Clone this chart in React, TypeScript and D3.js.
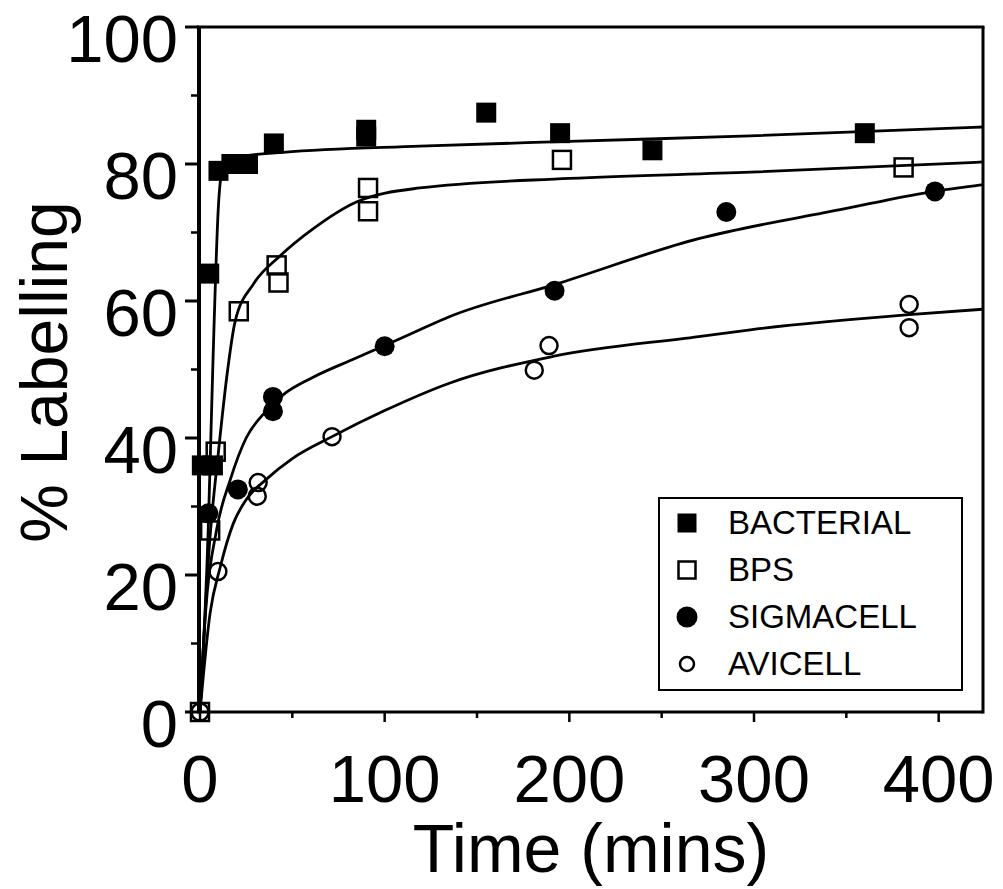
import React from "react";
import * as d3 from "d3";

// measured points [time (mins), % labelling]
const bacterialPts = [[1, 36], [7, 36], [5, 64], [10, 79], [17, 80], [26, 80], [40, 83], [90, 84], [90, 85], [155, 87.5], [195, 84.5], [245, 82], [360, 84.5]];
const bpsPts = [[0, 0], [5.5, 26.5], [8.5, 38], [21, 58.5], [41.5, 65.2], [42.5, 62.7], [91, 76.5], [91, 73.1], [196, 80.6], [381, 79.5]];
const sigmacellPts = [[4.5, 29], [20.5, 32.5], [39.5, 46], [39.5, 43.9], [100, 53.4], [192, 61.5], [285, 73], [398, 76]];
const avicellPts = [[0, 0], [9.7, 20.5], [31.5, 33.5], [31, 31.5], [71.5, 40.2], [189, 53.5], [181, 49.9], [384, 59.5], [384, 56.1]];

// fitted curves
const bacterialFit = [[0, 0], [4.5, 27], [7, 51], [10, 74], [12, 79], [16, 80.5], [25, 81.2], [45, 81.7], [119, 82.6], [200, 83.3], [298, 84.1], [424, 85.4]];
const bpsFit = [[0, 0], [5, 24], [10, 38], [15, 50], [19, 57], [29, 62.5], [43, 66.5], [61, 70.5], [85, 74.5], [119, 76.5], [200, 77.9], [298, 78.8], [424, 80.3]];
const sigmacellFit = [[0, 0], [3, 14.5], [9, 26.6], [16.5, 34], [25, 40], [35, 43.7], [45, 46.3], [60, 48.7], [83, 51.5], [100, 53.5], [119, 55.8], [135, 57.7], [192, 62.4], [270, 69.1], [348, 73.4], [395, 75.9], [424, 77]];
const avicellFit = [[0, 0], [5.5, 14.5], [11, 21.2], [18, 27.5], [25, 31], [36, 34], [50, 37], [71.5, 40.2], [100, 44], [135, 48], [191, 51.9], [270, 54.8], [298, 55.8], [384, 58], [424, 58.8]];

const seriesNames = ["BACTERIAL", "BPS", "SIGMACELL", "AVICELL"];
const xTicks = [0, 100, 200, 300, 400];
const yTicks = [0, 20, 40, 60, 80, 100];

const font = "'Liberation Sans', Arial, sans-serif";

const x = d3.scaleLinear().domain([0, 424]).range([200, 983]);
const y = d3.scaleLinear().domain([0, 100]).range([712, 27]);

const line = d3.line<number[]>()
    .x(d => x(d[0]))
    .y(d => y(d[1]))
    .curve(d3.curveMonotoneX);

let marker = (kind: string, cx: number, cy: number, big: boolean, key: any) => {
    const s = big ? 20 : 19;
    if (kind === "BACTERIAL")
        return <rect key={key} x={cx - s / 2} y={cy - s / 2} width={s} height={s} fill="#000" />;
    if (kind === "BPS")
        return <rect key={key} x={cx - (s - 2) / 2} y={cy - (s - 2) / 2} width={s - 2} height={s - 2} fill="none" stroke="#000" strokeWidth={2.5} />;
    if (kind === "SIGMACELL")
        return <circle key={key} cx={cx} cy={cy} r={big ? 10 : 10.5} fill="#000" />;
    return <circle key={key} cx={cx} cy={cy} r={big ? 8.5 : 7} fill="none" stroke="#000" strokeWidth={2.5} />;
};

export default function App() {
    const pts = [bacterialPts, bpsPts, sigmacellPts, avicellPts];
    const fits = [bacterialFit, bpsFit, sigmacellFit, avicellFit];
    const xMinor = d3.range(50, 424, 100);
    const yMinor = d3.range(10, 100, 20);

    return (
        <svg width={1003} height={889} style={{position: "absolute", left: 0, top: 0, background: "#fff"}}>
            {/* fitted curves */}
            {fits.map((f, i) => (
                <path key={"f" + i} d={line(f) || ""} fill="none" stroke="#000" strokeWidth={2.8} />
            ))}

            {/* frame */}
            <line x1={199} x2={199} y1={y(100) - 1} y2={y(0) + 1} stroke="#000" strokeWidth={4} />
            <line x1={197} x2={x(424)} y1={y(0)} y2={y(0)} stroke="#000" strokeWidth={3} />
            <line x1={197} x2={x(424) + 1.5} y1={y(100)} y2={y(100)} stroke="#000" strokeWidth={3} />
            <line x1={x(424)} x2={x(424)} y1={y(100)} y2={y(0) + 1.5} stroke="#000" strokeWidth={3} />

            {/* y ticks */}
            {yTicks.map(t => (
                <g key={"y" + t}>
                    <line x1={185} x2={199} y1={y(t)} y2={y(t)} stroke="#000" strokeWidth={3} />
                    <text x={178} y={y(t) + 35} textAnchor="end" fontFamily={font} fontSize={67}>{t}</text>
                </g>
            ))}
            {yMinor.map(t => (
                <line key={"ym" + t} x1={191} x2={199} y1={y(t)} y2={y(t)} stroke="#000" strokeWidth={2.5} />
            ))}

            {/* x ticks */}
            {xTicks.map(t => (
                <g key={"x" + t}>
                    <line x1={x(t)} x2={x(t)} y1={y(0)} y2={y(0) + 10} stroke="#000" strokeWidth={2.5} />
                    <text x={x(t)} y={802} textAnchor="middle" fontFamily={font} fontSize={67}>{t}</text>
                </g>
            ))}
            {xMinor.map(t => (
                <line key={"xm" + t} x1={x(t)} x2={x(t)} y1={y(0)} y2={y(0) + 6} stroke="#000" strokeWidth={2.5} />
            ))}

            {/* axis titles */}
            <text x={591} y={872} textAnchor="middle" fontFamily={font} fontSize={68}>Time (mins)</text>
            <text transform="translate(67,372) rotate(-90)" textAnchor="middle" fontFamily={font} fontSize={66}>% Labelling</text>

            {/* data points */}
            {pts.map((p, i) => p.map((d, j) => marker(seriesNames[i], x(d[0]), y(d[1]), true, "p" + i + "-" + j)))}

            {/* legend */}
            <rect x={659} y={498} width={303} height={192} fill="#fff" stroke="#000" strokeWidth={2} />
            {seriesNames.map((n, i) => (
                <g key={"l" + n}>
                    {marker(n, 687, 523 + i * 47, false, "lm" + i)}
                    <text x={728} y={523 + i * 47 + 11} fontFamily={font} fontSize={33}>{n}</text>
                </g>
            ))}
        </svg>
    );
}
